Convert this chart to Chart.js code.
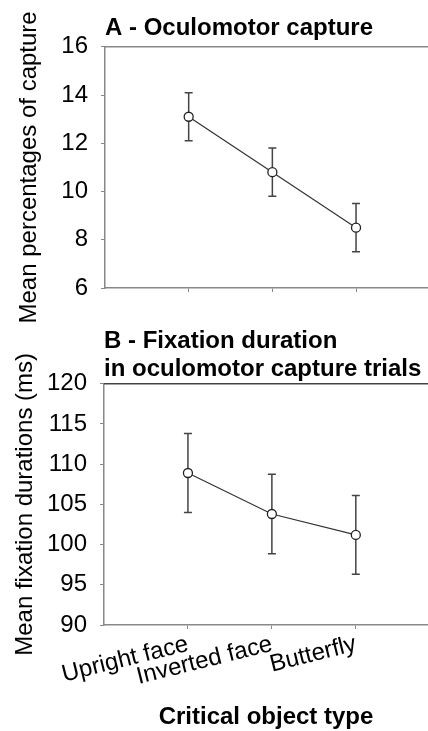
<!DOCTYPE html>
<html>
<head>
<meta charset="utf-8">
<script src="https://cdn.jsdelivr.net/npm/chart.js@4.4.1/dist/chart.umd.min.js"></script>
<style>
  html, body { margin: 0; padding: 0; background: #fff; overflow: hidden; }
  .panel { position: absolute; left: 0; width: 428px; }
  /* panel A runs a little past 300px so its long axis title is not cut */
  #panelA { top: 0; height: 330px; }
  #panelB { top: 300px; height: 431px; }
</style>
</head>
<body>
<div class="panel" id="panelA"><canvas id="captureChart"></canvas></div>
<div class="panel" id="panelB"><canvas id="durationChart"></canvas></div>
<script>
// Categories and values
const categories = ['Upright face', 'Inverted face', 'Butterfly'];

const captureMeans = [13.1, 10.8, 8.5];
const captureErrors = [1.0, 1.0, 1.0];
const captureTicks = [6, 8, 10, 12, 14, 16];

const durationMeans = [108.9, 103.8, 101.2];
const durationErrors = [4.9, 4.95, 4.9];
const durationTicks = [90, 95, 100, 105, 110, 115, 120];

const FONT = "'Liberation Sans', Arial, sans-serif";

// draws the vertical error bars under the markers
const errorBars = {
  id: 'errorBars',
  beforeDatasetsDraw(chart) {
    const ctx = chart.ctx;
    const x = chart.scales.x, y = chart.scales.y;
    const ds = chart.data.datasets[0];
    ctx.save();
    ctx.strokeStyle = '#444';
    ctx.lineWidth = 1.5;
    ds.data.forEach((p, i) => {
      const px = x.getPixelForValue(p.x);
      const hi = y.getPixelForValue(p.y + ds.errors[i]);
      const lo = y.getPixelForValue(p.y - ds.errors[i]);
      ctx.beginPath();
      ctx.moveTo(px, hi); ctx.lineTo(px, lo);
      ctx.moveTo(px - 4, hi); ctx.lineTo(px + 4, hi);
      ctx.moveTo(px - 4, lo); ctx.lineTo(px + 4, lo);
      ctx.stroke();
    });
    ctx.restore();
  }
};

// top line of the frame
const topLine = {
  id: 'topLine',
  afterDraw(chart, args, opts) {
    const {ctx, chartArea} = chart;
    ctx.save();
    ctx.strokeStyle = opts.color;
    ctx.lineWidth = 1.5;
    ctx.beginPath();
    ctx.moveTo(chartArea.left, chartArea.top);
    ctx.lineTo(chart.width, chartArea.top);
    ctx.stroke();
    ctx.restore();
  }
};

function makePanel(canvasId, cfg) {
  const points = cfg.means.map((v, i) => ({x: i + 1, y: v}));
  return new Chart(document.getElementById(canvasId).getContext('2d'), {
    type: 'line',
    data: {
      datasets: [{
        data: points,
        errors: cfg.errors,
        borderColor: '#333',
        borderWidth: 1.2,
        pointRadius: 4.5,
        pointBackgroundColor: '#fff',
        pointBorderColor: '#222',
        pointBorderWidth: 1.3,
        tension: 0
      }]
    },
    options: {
      responsive: true,
      maintainAspectRatio: false,
      animation: false,
      layout: { padding: 0, autoPadding: false },
      plugins: {
        legend: { display: false },
        tooltip: { enabled: false },
        topLine: { color: cfg.frameColor },
        title: {
          display: true,
          text: cfg.title,
          align: 'start',
          fullSize: false,
          color: '#000',
          font: { family: FONT, size: 24, weight: 'bold', lineHeight: cfg.titleLineHeight },
          padding: cfg.titlePadding
        }
      },
      scales: {
        x: {
          type: 'linear',
          min: 0,
          max: 3.86,
          afterBuildTicks: s => { s.ticks = categories.map((c, i) => ({value: i + 1})); },
          afterFit: s => { s.height = cfg.xHeight; s.paddingLeft = 0; s.paddingRight = 0; },
          ticks: {
            display: cfg.showLabels,
            minRotation: 14,
            maxRotation: 14,
            padding: 1,
            color: '#000',
            font: { family: FONT, size: 24 },
            callback: v => categories[v - 1]
          },
          grid: { drawOnChartArea: false, color: '#888', tickLength: 4 },
          border: { color: '#888', width: 1.5 },
          title: {
            display: cfg.showLabels,
            text: 'Critical object type',
            color: '#000',
            font: { family: FONT, size: 24, weight: 'bold', lineHeight: 1.1 },
            padding: 0
          }
        },
        y: {
          min: cfg.ticks[0],
          max: cfg.ticks[cfg.ticks.length - 1],
          afterBuildTicks: s => { s.ticks = cfg.ticks.map(v => ({value: v})); },
          afterFit: s => { s.width = cfg.yWidth; s.paddingTop = 0; s.paddingBottom = 0; },
          ticks: {
            padding: 13,
            color: '#000',
            font: { family: FONT, size: 24 }
          },
          grid: { drawOnChartArea: false, color: '#888', tickLength: 4 },
          border: { color: '#888', width: 1.5 },
          title: {
            display: true,
            text: cfg.yTitle,
            color: '#000',
            font: { family: FONT, size: 24, lineHeight: 1.2 },
            padding: { top: cfg.yTitlePad, bottom: 0 }
          }
        }
      }
    },
    plugins: [errorBars, topLine]
  });
}

makePanel('captureChart', {
  means: captureMeans,
  errors: captureErrors,
  ticks: captureTicks,
  title: 'A - Oculomotor capture',
  titleLineHeight: 1.2,
  titlePadding: { top: 14, bottom: 4 },
  yTitle: 'Mean percentages of capture',
  yTitlePad: 15,
  yWidth: 105,
  xHeight: 42,
  showLabels: false,
  frameColor: '#888'
});

makePanel('durationChart', {
  means: durationMeans,
  errors: durationErrors,
  ticks: durationTicks,
  title: ['B - Fixation duration', 'in oculomotor capture trials'],
  titleLineHeight: 1.14,
  titlePadding: { top: 28, bottom: 1 },
  yTitle: 'Mean fixation durations (ms)',
  yTitlePad: 11,
  yWidth: 104,
  xHeight: 106,
  showLabels: true,
  frameColor: '#444'
});
</script>
</body>
</html>
